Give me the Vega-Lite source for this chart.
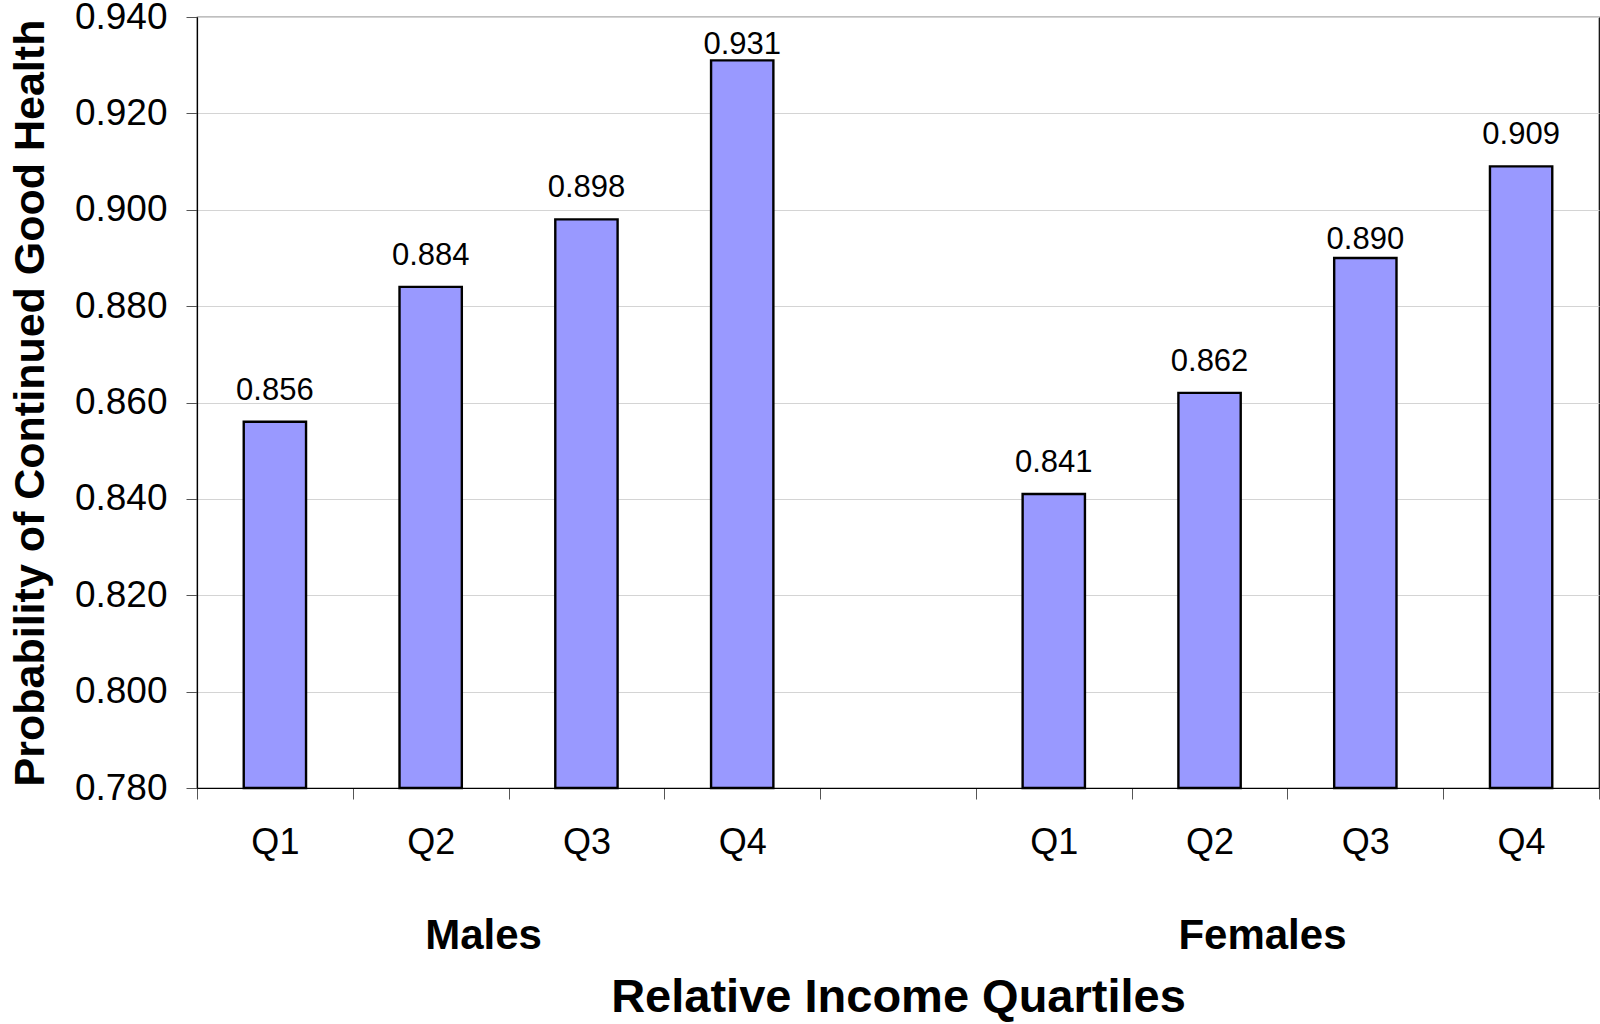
{
  "$schema": "https://vega.github.io/schema/vega-lite/v6.json",
  "width": 1402,
  "height": 771,
  "autosize": {"type": "none"},
  "padding": {"left": 197, "top": 17, "right": 1, "bottom": 236},
  "background": "white",
  "config": {
    "font": "Liberation Sans",
    "view": {"stroke": "#000000", "strokeWidth": 1.2},
    "axis": {"labelColor": "#000000", "titleColor": "#000000", "labelFont": "Liberation Sans", "titleFont": "Liberation Sans"}
  },
  "layer": [
    {
      "data": {"values": [
        {"sex": "Males", "quartile": "Q1", "slot": "Males Q1", "value": 0.856},
        {"sex": "Males", "quartile": "Q2", "slot": "Males Q2", "value": 0.884},
        {"sex": "Males", "quartile": "Q3", "slot": "Males Q3", "value": 0.898},
        {"sex": "Males", "quartile": "Q4", "slot": "Males Q4", "value": 0.931},
        {"sex": "Females", "quartile": "Q1", "slot": "Females Q1", "value": 0.841},
        {"sex": "Females", "quartile": "Q2", "slot": "Females Q2", "value": 0.862},
        {"sex": "Females", "quartile": "Q3", "slot": "Females Q3", "value": 0.890},
        {"sex": "Females", "quartile": "Q4", "slot": "Females Q4", "value": 0.909}
      ]},
      "encoding": {
        "x": {
          "field": "slot",
          "type": "nominal",
          "sort": null,
          "scale": {
            "type": "band",
            "domain": ["Males Q1", "Males Q2", "Males Q3", "Males Q4", "gap", "Females Q1", "Females Q2", "Females Q3", "Females Q4"],
            "paddingInner": 0,
            "paddingOuter": 0
          },
          "axis": {
            "orient": "bottom",
            "title": null,
            "labelAngle": 0,
            "labelFontSize": 36,
            "labelPadding": 26,
            "labelExpr": "datum.value == 'gap' ? '' : split(datum.value, ' ')[1]",
            "domain": true,
            "domainColor": "#000000",
            "domainWidth": 1.2,
            "ticks": true,
            "tickBand": "extent",
            "tickColor": "#555555",
            "tickSize": 11,
            "grid": false
          }
        },
        "y": {
          "field": "value",
          "type": "quantitative",
          "scale": {"domain": [0.78, 0.94], "nice": false, "zero": false},
          "axis": {
            "title": "Probability of Continued Good Health",
            "titleFontSize": 43,
            "titleFontWeight": "bold",
            "titlePadding": 22,
            "values": [0.78, 0.8, 0.82, 0.84, 0.86, 0.88, 0.9, 0.92, 0.94],
            "format": ".3f",
            "labelFontSize": 37,
            "labelPadding": 19,
            "domain": true,
            "domainColor": "#000000",
            "domainWidth": 1.2,
            "tickColor": "#555555",
            "tickSize": 11,
            "grid": true,
            "gridColor": "#d4d4d4",
            "gridWidth": 1
          }
        }
      },
      "layer": [
        {
          "mark": {"type": "bar", "fill": "#9999FF", "stroke": "#000000", "strokeWidth": 2.4, "width": {"band": 0.4}},
          "encoding": {"y2": {"datum": 0.78}}
        },
        {
          "mark": {"type": "text", "fontSize": 31, "align": "center", "baseline": "alphabetic", "color": "#000000", "dy": {"expr": "datum.value > 0.92 ? -6 : (datum.value > 0.885 && datum.value < 0.895 ? -9 : -22)"}},
          "encoding": {"text": {"field": "value", "type": "quantitative", "format": ".3f"}}
        }
      ]
    },
    {
      "data": {"values": [{"sex": "Males"}, {"sex": "Females"}]},
      "mark": {"type": "text", "text": ""},
      "encoding": {
        "x": {
          "field": "sex",
          "type": "nominal",
          "sort": null,
          "scale": {"type": "band", "domain": ["Males", "Females"], "paddingInner": 0.2, "paddingOuter": 0},
          "axis": {
            "orient": "bottom",
            "title": "Relative Income Quartiles",
            "titleFontSize": 47,
            "titleFontWeight": "bold",
            "titlePadding": 18,
            "labelAngle": 0,
            "labelFontSize": 42,
            "labelFontWeight": "bold",
            "labelPadding": 127,
            "labelOffset": -25,
            "domain": false,
            "ticks": false,
            "tickSize": 0,
            "grid": false
          }
        }
      }
    }
  ],
  "resolve": {"scale": {"x": "independent"}, "axis": {"x": "independent"}}
}
